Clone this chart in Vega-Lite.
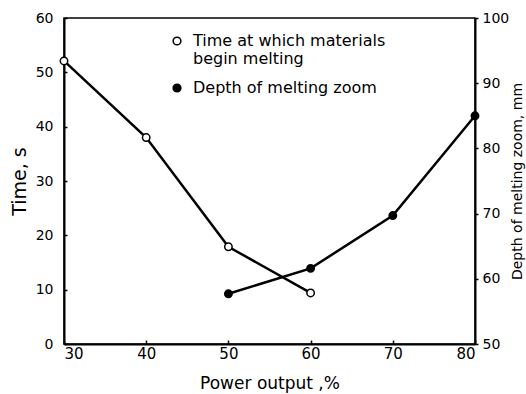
{
  "$schema": "https://vega.github.io/schema/vega-lite/v6.json",
  "width": 411,
  "height": 326,
  "autosize": "none",
  "padding": {"left": 64, "top": 18, "right": 51, "bottom": 50},
  "config": {
    "font": "DejaVu Sans",
    "view": {"stroke": "black", "strokeWidth": 1.5},
    "axis": {
      "grid": false,
      "domainColor": "black",
      "domainWidth": 2,
      "tickColor": "black",
      "tickWidth": 1.5,
      "labelColor": "black",
      "titleColor": "black",
      "labelFontSize": 14,
      "titleFontSize": 14,
      "titleFontWeight": "normal"
    }
  },
  "data": {
    "values": [
      {"power": 30, "series": "time", "label": "Time at which materials|begin melting", "value": 52.1},
      {"power": 40, "series": "time", "label": "Time at which materials|begin melting", "value": 38.0},
      {"power": 50, "series": "time", "label": "Time at which materials|begin melting", "value": 17.9},
      {"power": 60, "series": "time", "label": "Time at which materials|begin melting", "value": 9.4},
      {"power": 50, "series": "depth", "label": "Depth of melting zoom", "value": 57.7},
      {"power": 60, "series": "depth", "label": "Depth of melting zoom", "value": 61.6},
      {"power": 70, "series": "depth", "label": "Depth of melting zoom", "value": 69.7},
      {"power": 80, "series": "depth", "label": "Depth of melting zoom", "value": 85.0}
    ]
  },
  "encoding": {
    "x": {
      "field": "power",
      "type": "quantitative",
      "scale": {"domain": [30, 80], "nice": false},
      "axis": {
        "title": "Power output ,%",
        "values": [30, 40, 50, 60, 70, 80],
        "tickSize": -4,
        "labelPadding": 6,
        "labelFontSize": 15,
        "titleFontSize": 17,
        "titlePadding": 14
      }
    }
  },
  "layer": [
    {
      "transform": [{"filter": "datum.series == 'time'"}],
      "encoding": {
        "y": {
          "field": "value",
          "type": "quantitative",
          "scale": {"domain": [0, 60], "nice": false},
          "axis": {
            "title": "Time, s",
            "orient": "left",
            "values": [0, 10, 20, 30, 40, 50, 60],
            "tickSize": -3,
            "labelPadding": 14,
            "titleFontSize": 19,
            "titlePadding": 6
          }
        }
      },
      "layer": [
        {"mark": {"type": "line", "color": "black", "strokeWidth": 2.5}},
        {
          "mark": {"type": "point", "filled": true, "shape": "circle", "size": 55, "stroke": "black", "strokeWidth": 1.5, "opacity": 1},
          "encoding": {
            "fill": {
              "field": "label",
              "type": "nominal",
              "scale": {"domain": ["Time at which materials|begin melting", "Depth of melting zoom"], "range": ["white", "black"]},
              "legend": {
                "title": null,
                "orient": "none",
                "legendX": 105,
                "legendY": 15,
                "labelExpr": "split(datum.label, '|')",
                "labelFontSize": 16,
                "labelColor": "black",
                "labelBaseline": "top",
                "labelOffset": 8,
                "symbolType": "circle",
                "symbolSize": 60,
                "symbolStrokeColor": "black",
                "symbolStrokeWidth": 1.5,
                "symbolOpacity": 1,
                "rowPadding": 13,
                "labelLimit": 300,
                "encode": {"labels": {"update": {"dy": {"value": -8}}}}
              }
            }
          }
        }
      ]
    },
    {
      "transform": [{"filter": "datum.series == 'depth'"}],
      "encoding": {
        "y": {
          "field": "value",
          "type": "quantitative",
          "scale": {"domain": [50, 100], "nice": false},
          "axis": {
            "title": "Depth of melting zoom, mm",
            "orient": "right",
            "values": [50, 60, 70, 80, 90, 100],
            "tickSize": 3,
            "labelPadding": 4,
            "titleAngle": 270,
            "titlePadding": 16
          }
        }
      },
      "layer": [
        {"mark": {"type": "line", "color": "black", "strokeWidth": 2.5}},
        {
          "mark": {"type": "point", "filled": true, "shape": "circle", "size": 55, "stroke": "black", "strokeWidth": 1.5, "opacity": 1},
          "encoding": {
            "fill": {"field": "label", "type": "nominal"}
          }
        }
      ]
    }
  ],
  "resolve": {"scale": {"y": "independent"}}
}
